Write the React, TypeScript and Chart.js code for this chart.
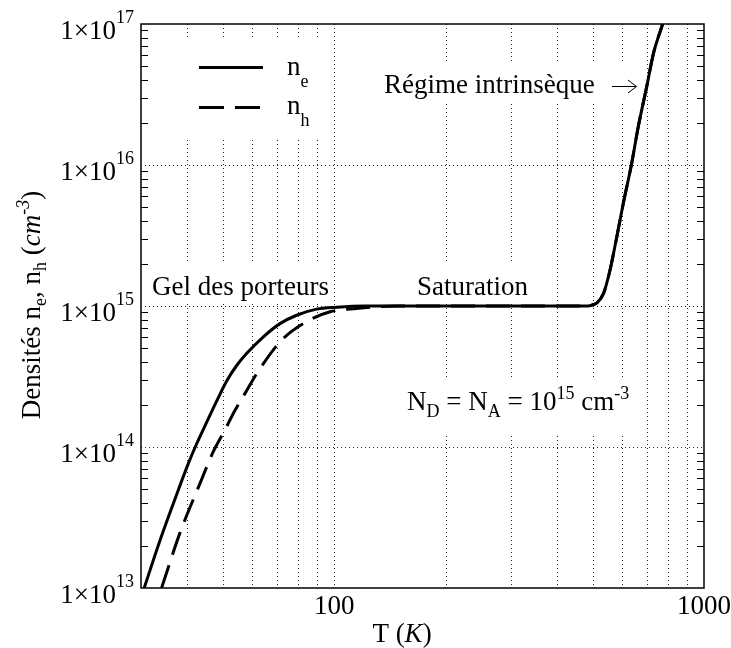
import React, { useEffect, useRef } from "react";
import { Chart, registerables } from "chart.js";

Chart.register(...registerables);

// ---- data ----
const T_E = [30.6, 33.8, 36.7, 40.3, 42.4, 44.5, 48.6, 51.2, 54.5, 57.9, 64.3, 71.3, 79.1, 89.6, 101.5, 120, 150, 200, 300, 400, 470, 486, 500, 513, 535, 557, 581, 605, 637.5, 664, 700, 730, 773];
const N_E = [1.0e13, 2.19e13, 3.98e13, 7.65e13, 1.05e14, 1.38e14, 2.25e14, 2.95e14, 3.8e14, 4.6e14, 6.05e14, 7.5e14, 8.6e14, 9.5e14, 9.8e14, 1.0e15, 1.0e15, 1.0e15, 1.0e15, 1.0e15, 1.0e15, 1.0e15, 1.02e15, 1.05e15, 1.23e15, 1.8e15, 3.1e15, 5.35e15, 1.03e16, 1.87e16, 3.6e16, 6.2e16, 1.0e17];
const T_H = [34.1, 38.2, 43.3, 47.1, 50.6, 53.3, 57.4, 62.3, 72.1, 84.2, 97.4, 115, 147, 200, 300, 400, 470, 486, 500, 513, 535, 557, 581, 605, 637.5, 664, 700, 730, 773];
const N_H = [1.0e13, 2.44e13, 5.5e13, 9.3e13, 1.32e14, 1.73e14, 2.41e14, 3.45e14, 5.74e14, 7.75e14, 9.1e14, 9.6e14, 1.0e15, 1.0e15, 1.0e15, 1.0e15, 1.0e15, 1.0e15, 1.02e15, 1.05e15, 1.23e15, 1.8e15, 3.1e15, 5.35e15, 1.03e16, 1.87e16, 3.6e16, 6.2e16, 1.0e17];

const X_MIN = 30;
const X_MAX = 1000;
const Y_MIN = 1e13;
const Y_MAX = 1e17;
const X_GRID = [40, 50, 60, 70, 80, 90, 100, 200, 300, 400, 500, 600, 700, 800, 900];
const X_LABELS = [100, 1000];
const Y_EXPONENTS = [13, 14, 15, 16, 17];
const Y_MINOR = [2, 3, 4, 5, 6, 7, 8, 9];

const SERIES_LABELS = ["e", "h"];

const FONT = '"Liberation Serif", "Times New Roman", serif';
const BIG = 27;
const SMALL = 18;

type Seg = { t: string; size?: number; dy?: number; italic?: boolean };

function segFont(s: Seg) {
  return `${s.italic ? "italic " : ""}${s.size ?? BIG}px ${FONT}`;
}

function richWidth(ctx: CanvasRenderingContext2D, segs: Seg[]) {
  let w = 0;
  for (const s of segs) {
    ctx.font = segFont(s);
    w += ctx.measureText(s.t).width;
  }
  return w;
}

function drawRich(ctx: CanvasRenderingContext2D, x: number, y: number, segs: Seg[], align: "left" | "center" | "right" = "left") {
  const w = richWidth(ctx, segs);
  let cx = align === "left" ? x : align === "center" ? x - w / 2 : x - w;
  ctx.textAlign = "left";
  ctx.textBaseline = "alphabetic";
  for (const s of segs) {
    ctx.font = segFont(s);
    ctx.fillText(s.t, cx, y + (s.dy ?? 0));
    cx += ctx.measureText(s.t).width;
  }
}

const decoPlugin = {
  id: "deco",
  beforeDatasetsDraw(chart: any) {
    const { ctx, chartArea: a, scales } = chart;
    const xs = scales.x;
    const ys = scales.y;
    ctx.save();
    ctx.strokeStyle = "rgba(0,0,0,0.85)";
    ctx.lineWidth = 1;
    ctx.setLineDash([1, 3]);
    for (const v of X_GRID) {
      const px = Math.round(xs.getPixelForValue(v)) + 0.5;
      ctx.beginPath();
      ctx.moveTo(px, a.top);
      ctx.lineTo(px, a.bottom);
      ctx.stroke();
    }
    for (const e of Y_EXPONENTS.slice(1, -1)) {
      const py = Math.round(ys.getPixelForValue(Math.pow(10, e))) + 0.5;
      ctx.beginPath();
      ctx.moveTo(a.left, py);
      ctx.lineTo(a.right, py);
      ctx.stroke();
    }
    ctx.setLineDash([]);
    // white boxes behind labels
    ctx.fillStyle = "#fff";
    const boxes = [
      [178, 37, 147, 100],
      [148, 262, 184, 40],
      [413, 262, 121, 40],
      [380, 63, 261, 40],
      [400, 378, 240, 56],
    ];
    for (const b of boxes) ctx.fillRect(b[0], b[1], b[2], b[3]);
    ctx.restore();
  },
  afterDatasetsDraw(chart: any) {
    const { ctx, chartArea: a, scales } = chart;
    const xs = scales.x;
    const ys = scales.y;
    ctx.save();
    ctx.fillStyle = "#000";
    ctx.strokeStyle = "#000";
    // frame
    ctx.lineWidth = 1.5;
    ctx.strokeRect(a.left, a.top, a.right - a.left, a.bottom - a.top);
    // minor ticks on left and right (inward)
    ctx.lineWidth = 1.2;
    for (let e = Y_EXPONENTS[0]; e < Y_EXPONENTS[Y_EXPONENTS.length - 1]; e++) {
      for (const k of Y_MINOR) {
        const py = Math.round(ys.getPixelForValue(k * Math.pow(10, e))) + 0.5;
        ctx.beginPath();
        ctx.moveTo(a.left, py);
        ctx.lineTo(a.left + 7, py);
        ctx.moveTo(a.right, py);
        ctx.lineTo(a.right - 7, py);
        ctx.stroke();
      }
    }
    // y tick labels
    for (const e of Y_EXPONENTS) {
      const py = ys.getPixelForValue(Math.pow(10, e));
      const supW = richWidth(ctx, [{ t: String(e), size: SMALL }]);
      drawRich(ctx, a.left - 7 - supW, py + 15, [{ t: "1×10" }], "right");
      drawRich(ctx, a.left - 7, py - 1, [{ t: String(e), size: SMALL }], "right");
    }
    // x tick labels
    for (const v of X_LABELS) {
      const px = xs.getPixelForValue(v);
      drawRich(ctx, px, a.bottom + 26, [{ t: String(v) }], "center");
    }
    // axis titles
    drawRich(ctx, 402, 642, [{ t: "T (" }, { t: "K", italic: true }, { t: ")" }], "center");
    ctx.save();
    ctx.translate(40, 305);
    ctx.rotate(-Math.PI / 2);
    drawRich(
      ctx,
      0,
      0,
      [
        { t: "Densités n" },
        { t: "e", size: SMALL, dy: 6 },
        { t: ", n" },
        { t: "h", size: SMALL, dy: 6 },
        { t: " (" },
        { t: "cm", italic: true },
        { t: "-3", size: SMALL, dy: -11, italic: true },
        { t: ")" },
      ],
      "center"
    );
    ctx.restore();
    // annotations
    drawRich(ctx, 152, 295, [{ t: "Gel des porteurs" }]);
    drawRich(ctx, 417, 295, [{ t: "Saturation" }]);
    drawRich(ctx, 384, 93, [{ t: "Régime intrinsèque" }]);
    // arrow
    ctx.lineWidth = 1;
    ctx.beginPath();
    ctx.moveTo(612, 86.5);
    ctx.lineTo(636, 86.5);
    ctx.moveTo(628, 80);
    ctx.lineTo(636.5, 86.5);
    ctx.lineTo(628, 93);
    ctx.stroke();
    drawRich(ctx, 407, 410, [
      { t: "N" },
      { t: "D", size: SMALL, dy: 7 },
      { t: " = N" },
      { t: "A", size: SMALL, dy: 7 },
      { t: " = 10" },
      { t: "15", size: SMALL, dy: -11 },
      { t: " cm" },
      { t: "-3", size: SMALL, dy: -11 },
    ]);
    // legend
    ctx.lineWidth = 3;
    ctx.beginPath();
    ctx.moveTo(199, 67.5);
    ctx.lineTo(263, 67.5);
    ctx.stroke();
    ctx.setLineDash([25, 11]);
    ctx.beginPath();
    ctx.moveTo(199, 107.5);
    ctx.lineTo(262, 107.5);
    ctx.stroke();
    ctx.setLineDash([]);
    drawRich(ctx, 287, 75, [{ t: "n" }, { t: SERIES_LABELS[0], size: SMALL, dy: 12 }]);
    drawRich(ctx, 287, 114, [{ t: "n" }, { t: SERIES_LABELS[1], size: SMALL, dy: 12 }]);
    ctx.restore();
  },
};

export default function App() {
  const ref = useRef<HTMLCanvasElement | null>(null);
  useEffect(() => {
    if (!ref.current) return;
    const chart = new Chart(ref.current, {
      type: "line",
      data: {
        datasets: [
          {
            label: "n_h",
            data: T_H.map((t, i) => ({ x: t, y: N_H[i] })),
            borderColor: "#000",
            borderWidth: 3,
            borderDash: [24, 11],
            pointRadius: 0,
            fill: false,
            cubicInterpolationMode: "monotone",
            clip: 0,
          },
          {
            label: "n_e",
            data: T_E.map((t, i) => ({ x: t, y: N_E[i] })),
            borderColor: "#000",
            borderWidth: 3,
            pointRadius: 0,
            fill: false,
            cubicInterpolationMode: "monotone",
            clip: 0,
          },
        ],
      },
      options: {
        animation: false,
        responsive: false,
        devicePixelRatio: 1,
        parsing: false as any,
        layout: { padding: { left: 141, top: 24, right: 27, bottom: 60 } },
        plugins: { legend: { display: false }, tooltip: { enabled: false } },
        scales: {
          x: { type: "logarithmic", min: X_MIN, max: X_MAX, display: false },
          y: { type: "logarithmic", min: Y_MIN, max: Y_MAX, display: false },
        },
      },
      plugins: [decoPlugin],
    });
    return () => chart.destroy();
  }, []);
  return (
    <div style={{ position: "fixed", left: 0, top: 0, width: 731, height: 648, background: "#fff" }}>
      <canvas ref={ref} width={731} height={648} style={{ width: 731, height: 648, display: "block" }} />
    </div>
  );
}
